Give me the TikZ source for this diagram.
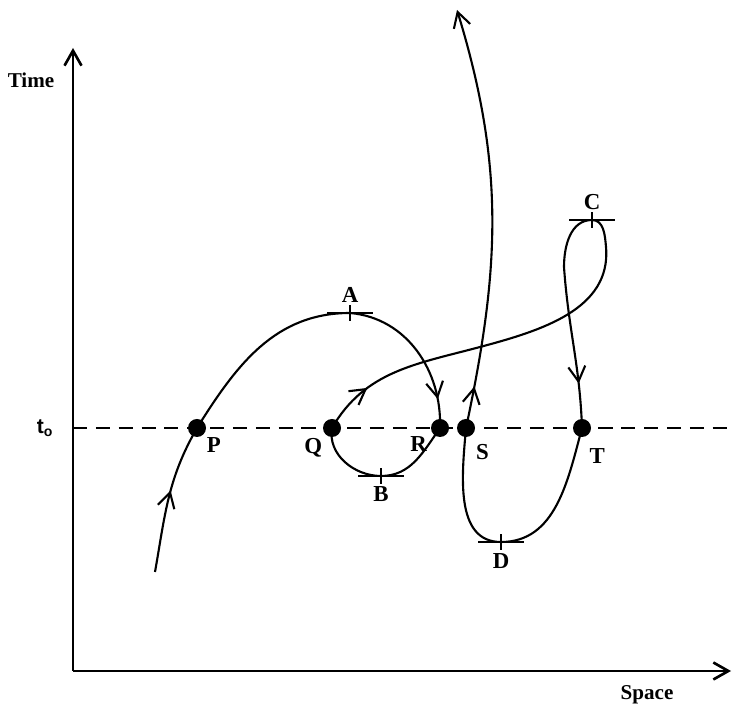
\documentclass[tikz,border=0pt]{standalone}
\usepackage{fontspec}
\setmainfont{Liberation Serif}
\setsansfont{Liberation Sans}
\usetikzlibrary{arrows.meta, decorations.markings, calc}

\begin{document}
\begin{tikzpicture}[x=0.2mm, y=0.2mm, line width=1.2pt,
    >={Straight Barb[length=3mm, width=3.4mm]},
    dot/.style={circle, fill, inner sep=0pt, minimum size=3.6mm},
    lbl/.style={font=\fontsize{13}{15}\selectfont\bfseries, inner sep=1pt},
    axislbl/.style={font=\fontsize{12}{14}\selectfont\bfseries},
    axis/.style={line width=1.5pt, ->},
    tline/.style={line width=1.1pt, dash pattern=on 8pt off 5pt},
    tickbar/.style={line width=1.2pt},
    midarrow/.style={postaction={decorate}, decoration={markings,
        mark=at position #1 with {\arrow{>}}}}]
    \useasboundingbox (0,0) rectangle (733,707);

    % axes
    \coordinate (O) at (73,36);
    \coordinate (yend) at (73,659);
    \coordinate (xend) at (731,36);
    \draw[axis] (O) -- (yend);
    \draw[axis] (O) -- (xend);
    \node[axislbl] (time) at (31,627) {Time};
    \node[axislbl] (space) at (647,12) {Space};

    % the instant t0
    \node[axislbl, font=\fontsize{12}{14}\selectfont\sffamily\bfseries] (t0) at (45,279) {t\textsubscript{o}};
    \coordinate (lend) at (733,279);
    \draw[tline] (O |- t0) -- (lend);

    % events at t0
    \node[dot, label={[lbl, label distance=0pt]-45:P}] (P) at (197,279) {};
    \node[dot, label={[lbl, label distance=0pt]-135:Q}] (Q) at (332,279) {};
    \node[dot, label={[lbl, label distance=1pt]-150:R}] (R) at (440,279) {};
    \node[dot, label={[lbl, label distance=3pt]-62:S}] (S) at (466,279) {};
    \node[dot, label={[lbl, label distance=5pt]-75:T}] (T) at (582,279) {};

    % turning points
    \coordinate[label={[lbl, label distance=1.5mm]above:A}] (A) at (350,394);
    \coordinate[label={[lbl, label distance=1.5mm]below:B}] (B) at (381,231);
    \coordinate[label={[lbl, label distance=1.5mm]above:C}] (C) at (592,487);
    \coordinate[label={[lbl, label distance=1.8mm]below:D}] (D) at (501,165);
    \coordinate (start) at (155,135);
    \coordinate (k1) at (480,360);
    \coordinate (k2) at (606,460);
    \coordinate (k3) at (564,440);
    \coordinate (top) at (457,697);

    % world line
    \draw[midarrow=0.55] (start) to[out=80, in=240] (P.center);
    \draw (P.center) to[out=58, in=180] (A);
    \draw[midarrow=0.82] (A) to[out=-5, in=88] (R.center);
    \draw (R.center) to[out=235, in=0] (B) to[out=180, in=260] (Q.center);
    \draw[midarrow=0.14] (Q.center) to[out=60, in=195] (k1) to[out=15, in=-85] (k2) to[out=95, in=0] (C);
    \draw[midarrow=0.8] (C) to[out=180, in=90] (k3) to[out=-86, in=92] (T.center);
    \draw (T.center) to[out=-105, in=0] (D) to[out=180, in=-95] (S.center);
    \draw[midarrow=0.1, ->] (S.center) to[out=78, in=-73] (top);

    \foreach \t in {A,B,C,D} {
        \draw[tickbar] ($(\t)+(-23,0)$) -- ($(\t)+(23,0)$);
        \draw[tickbar] ($(\t)+(0,-8)$) -- ($(\t)+(0,8)$);
    }
\end{tikzpicture}
\end{document}
